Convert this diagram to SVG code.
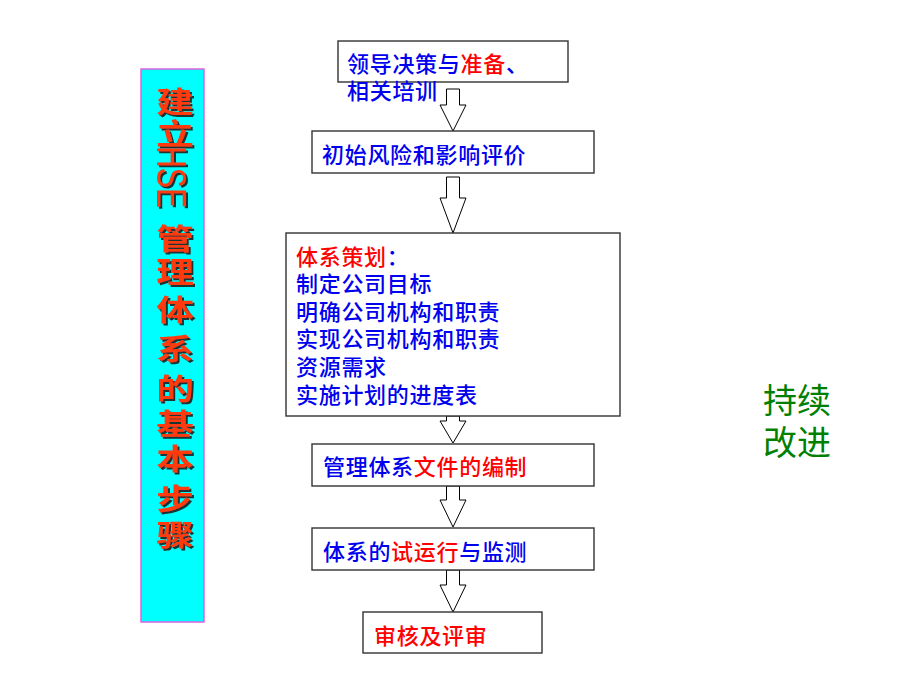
<svg xmlns="http://www.w3.org/2000/svg" width="920" height="690" viewBox="0 0 920 690">
<defs>
<filter id="shadow" x="-20%" y="-20%" width="150%" height="150%">
<feDropShadow dx="2" dy="2" stdDeviation="0.6" flood-color="#1a1a1a" flood-opacity="0.9"/>
</filter>
</defs>
<style>
.box{fill:#fff;stroke:#333;stroke-width:1.4}
.t{font-family:"Noto Sans CJK SC","Liberation Sans",sans-serif;font-size:22px;font-weight:500;letter-spacing:0.7px}
.b{fill:#0000ee}
.r{fill:#ff0000}
.arr{fill:#fff;stroke:#000;stroke-width:1}
.tc{font-family:"Noto Sans CJK SC",sans-serif;font-size:29px;font-weight:bold;text-anchor:middle;fill:#ff3a10}
.g{font-family:"Noto Sans CJK SC",sans-serif;font-size:34px;fill:#008000}
</style>
<rect width="920" height="690" fill="#fff"/>
<g id="title">
<rect x="141" y="69" width="63" height="553" fill="#00ffff" stroke="#e060e0" stroke-width="1.5"/>
<g class="tc" filter="url(#shadow)">
<text transform="translate(175,113) scale(1.3,1)">建</text>
<text transform="translate(175,145) scale(1.3,1)">立</text>
<text transform="translate(175,250) scale(1.3,1)">管</text>
<text transform="translate(175,283) scale(1.3,1)">理</text>
<text transform="translate(175,321) scale(1.3,1)">体</text>
<text transform="translate(175,360) scale(1.3,1)">系</text>
<text transform="translate(175,400) scale(1.3,1)">的</text>
<text transform="translate(175,435) scale(1.3,1)">基</text>
<text transform="translate(175,470) scale(1.3,1)">本</text>
<text transform="translate(175,510) scale(1.3,1)">步</text>
<text transform="translate(175,546) scale(1.3,1)">骤</text>
<text transform="translate(157,146) rotate(90)" font-family="Liberation Sans,sans-serif" font-weight="normal" font-size="42" textLength="62" lengthAdjust="spacingAndGlyphs" text-anchor="start">HSE</text>
</g>
</g>
<g id="connectors">
<polygon class="arr" points="446.5,89 459.5,89 459.5,105 466,105 453,131 440,105 446.5,105"/>
<polygon class="arr" points="446.5,177 459.5,177 459.5,198 466,198 453,233 440,198 446.5,198"/>
<polygon class="arr" points="446.5,416 459.5,416 459.5,421 466,421 453,443 440,421 446.5,421"/>
<polygon class="arr" points="446.5,486 459.5,486 459.5,500 466,500 453,527 440,500 446.5,500"/>
<polygon class="arr" points="446.5,570 459.5,570 459.5,585 466,585 453,612 440,585 446.5,585"/>
</g>
<g id="n1">
<rect class="box" x="338" y="41" width="230" height="41"/>
<text class="t" x="347" y="72"><tspan class="b">领导决策与</tspan><tspan class="r">准备</tspan><tspan class="b">、</tspan></text>
<text class="t b" x="347" y="99">相关培训</text>
</g>
<g id="n2">
<rect class="box" x="312" y="131" width="282" height="42"/>
<text class="t b" x="322" y="163">初始风险和影响评价</text>
</g>
<g id="n3">
<rect class="box" x="286" y="233" width="334" height="183"/>
<text class="t" x="296" y="265"><tspan class="r">体系策划</tspan><tspan class="b">：</tspan></text>
<text class="t b" x="296" y="292">制定公司目标</text>
<text class="t b" x="296" y="320">明确公司机构和职责</text>
<text class="t b" x="296" y="347">实现公司机构和职责</text>
<text class="t b" x="296" y="375">资源需求</text>
<text class="t b" x="296" y="403">实施计划的进度表</text>
</g>
<g id="n4">
<rect class="box" x="312" y="444" width="282" height="42"/>
<text class="t" x="323" y="475"><tspan class="b">管理体系</tspan><tspan class="r">文件的编制</tspan></text>
</g>
<g id="n5">
<rect class="box" x="312" y="528" width="282" height="42"/>
<text class="t" x="323" y="560"><tspan class="b">体系的</tspan><tspan class="r">试运行</tspan><tspan class="b">与监测</tspan></text>
</g>
<g id="n6">
<rect class="box" x="363" y="612" width="179" height="41"/>
<text class="t r" x="374" y="644">审核及评审</text>
</g>
<g id="improve">
<text class="g" x="763" y="413">持续</text>
<text class="g" x="763" y="455">改进</text>
</g>
</svg>
